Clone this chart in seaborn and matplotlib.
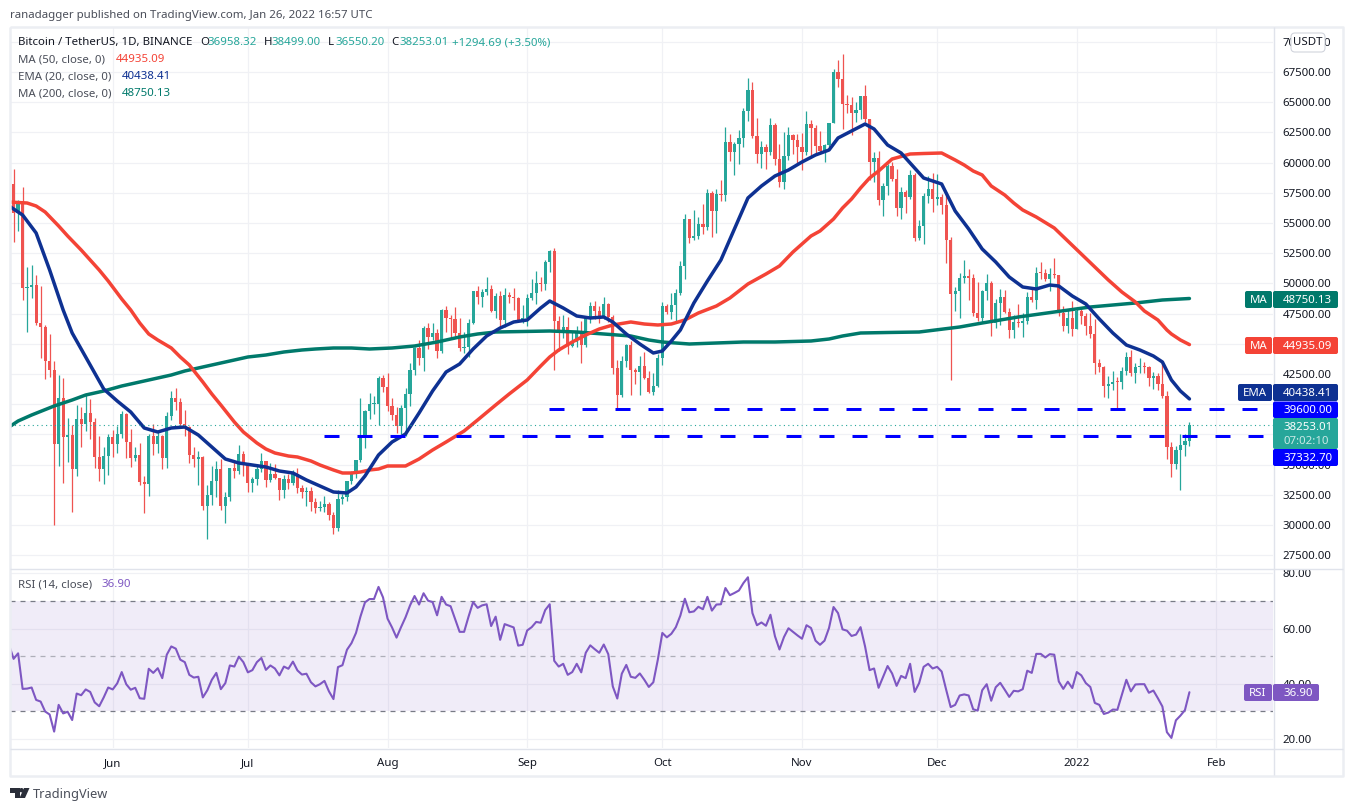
import numpy as np
import pandas as pd
import seaborn as sns
import matplotlib
matplotlib.use("Agg")
import matplotlib.pyplot as plt
from matplotlib.patches import FancyBboxPatch, Polygon, Circle
from matplotlib.lines import Line2D
from matplotlib.transforms import Affine2D

# ---------------- data ----------------
first_open = 58877
close_may = [58240,55848,56706,49631,49671,49841,46762,46431,43538,42849,36690,40526,37252,37449,34655,38796,38324,39241,38529,35663,34605,35678,37293]
high_may = [59300,59500,56900,58000,51367,51560,50700,49800,46545,45800,43546,42451,42200,38850,38270,39920,39791,40841,40411,38877,37338,36488,37499]
low_may = [56235,53400,54370,48600,46000,48800,46555,43825,42100,42250,30000,34850,33500,35200,31111,34031,36419,37800,37134,34684,33632,33379,34153]

close_jun = [36687,37555,39187,36856,35520,35796,33552,33380,37388,36675,37331,35546,39020,40516,40144,38349,38092,35820,35483,35600,31608,32509,33678,34663,31584,32283,34700,34494,35911,35045]
high_jun = [37894,38225,39476,39289,37925,36480,36800,34068,37534,38400,37700,37440,39380,41064,41330,40527,39559,38200,36457,36137,35750,33298,34881,35298,35500,32730,34749,35297,36600,36100]
low_jun = [35666,35920,37170,35555,34800,35259,33300,31000,32396,35800,35936,34635,34757,38730,39506,38116,37365,35129,34803,33336,31251,28805,31683,32286,31275,30151,31973,33862,34225,34017]

close_jul = [33504,33786,34669,35287,33690,34220,33863,32875,33815,33502,34259,33086,32729,32820,31880,31383,31520,31778,30839,29790,32144,32287,33634,34258,35381,37276,39473,40015,40016,42206,41461]
high_jul = [35057,33977,34945,35950,35284,35100,35059,33920,34100,34262,34592,34678,33340,33114,33185,32249,31950,32435,31899,31063,32858,32591,33650,34500,35398,40550,39542,40900,40640,42316,42448]
low_jul = [32711,32699,33316,34357,33125,33532,33770,32088,32261,33004,33331,32658,32202,31550,31133,31020,31164,31108,30407,29278,29482,31708,32000,33401,33851,35205,36383,38772,39200,38313,41000]

close_aug = [39845,39147,38207,39723,40862,42836,44614,43792,46285,45543,45881,44428,47833,47109,47014,45902,44686,44741,46763,49339,48905,49321,49546,47706,48960,46942,49058,48897,48767,46970,47100]
high_aug = [42599,40480,39780,39969,41350,43392,44700,45310,46454,46700,46743,46217,47886,48144,47372,48053,47160,45985,47033,49382,49757,49500,50500,49874,49240,49370,49632,49300,49658,48888,48246]
low_aug = [39422,38690,37642,37508,37332,39853,42446,43261,42779,44589,45341,43795,44218,45971,45500,45660,44376,44203,43927,46644,48270,48050,49029,47600,47136,46376,46371,48370,47762,46853,46700]

close_sep = [48810,49246,49999,49915,51756,52663,46863,46048,46395,44850,45173,46026,44940,47111,48121,47737,47299,48292,47242,43016,40734,43543,44865,42810,42670,43160,42147,41026,41522,43824]
high_sep = [49125,50392,51000,50558,51900,52781,52920,47340,47399,47250,45959,46460,46879,47250,48500,48557,48150,48843,48372,47347,43639,44000,45000,45200,42966,43950,44350,42787,42590,44141]
low_sep = [46513,48629,48316,49370,49450,50969,42843,44412,45513,44132,44769,44742,43370,44750,46700,47021,46699,47035,46829,42500,39600,40565,43069,40750,41646,40750,42098,40888,40753,41410]

close_oct = [48141,47634,48200,49224,51471,55315,53785,53951,54949,54659,57471,56005,57367,57347,61672,60875,61528,62036,64280,66001,62193,60688,61286,60852,63078,60328,58413,60575,62253,61859,61299]
high_oct = [48495,48336,49228,49500,51886,55750,55332,56100,55489,56561,57839,57680,57777,58532,62933,62378,61718,62675,64486,67000,66639,63732,61747,61500,63710,63293,61500,62499,62980,62359,62405]
low_oct = [43283,47430,47088,46891,49057,50382,53357,53617,53661,54080,54415,53879,54167,56818,56850,60150,58963,59844,61322,63481,62000,60000,59562,59510,60650,59817,58000,57820,60174,60673,59945]

close_nov = [60911,63219,62896,61395,60937,61470,63273,67525,66947,64882,64774,64122,64380,65519,63606,60058,60344,56891,58052,59707,58622,56247,57541,57138,58960,53727,54716,57274,57776,56950]
high_nov = [62437,64270,63500,63086,62600,61560,63286,67789,68524,69000,65600,65450,65000,65550,66401,63617,60840,60976,58320,59845,60029,59444,58009,57735,59420,59150,55280,57445,58865,59176]
low_nov = [59405,60624,60382,60677,60721,60050,61322,63273,66222,62822,64100,62278,63360,63576,63400,58574,58373,56474,55600,57353,58487,55610,55317,55837,57000,53500,53610,53256,56666,55875]

close_dec = [57184,56480,53601,49152,49396,50441,50588,50471,47545,47140,49389,50053,46702,48343,48864,47632,46131,46834,46681,46914,48889,48588,50838,50820,50400,50775,50701,47543,46464,47120,46216]
high_dec = [59053,57375,57600,53859,49699,50891,51936,51200,50797,50125,49485,50777,50189,48700,49500,49436,48004,47360,48300,47537,49328,49576,51375,51810,51156,51280,52088,50704,48139,47900,48548]
low_dec = [56458,55777,51680,42000,47727,47100,50039,48600,47320,46852,46751,48638,45672,46290,46547,47511,45456,45500,46406,45558,46630,48421,47920,50384,50171,49412,50449,47313,46096,45900,45678]

close_jan = [47722,47286,46446,45833,43431,43097,41546,41672,41864,41822,42729,43902,42560,43059,43084,43071,42201,42352,41660,40680,36445,35071,36244,36660,36958,38253]
high_jan = [47954,47990,47570,47557,47070,43748,43145,42300,42786,42248,43100,44322,44500,43448,43800,43475,43176,42691,42559,43505,41100,36835,36499,37550,37545,38499]
low_jan = [46208,46654,45696,45500,42500,42645,40610,40501,41200,39650,41268,42448,42311,41725,42562,42581,41540,41250,41138,40553,35440,34008,34601,32917,35701,36550]

closes = close_may + close_jun + close_jul + close_aug + close_sep + close_oct + close_nov + close_dec + close_jan
highs = high_may + high_jun + high_jul + high_aug + high_sep + high_oct + high_nov + high_dec + high_jan
lows = low_may + low_jun + low_jul + low_aug + low_sep + low_oct + low_nov + low_dec + low_jan
opens = [first_open] + closes[:-1]
days = np.arange(len(closes))

ema_days = [0,3,6,9,12,14,18,21,24,27,30,33,36,39,42,45,48,51,54,57,60,63,66,69,72,75,77,79,82,85,88,91,94,97,100,103,106,109,112,115,118,120,123,126,129,132,134,137,140,143,145,147,149,152,155,158,161,164,167,170,173,176,179,182,184,187,190,192,195,198,200,203,205,207,210,213,216,219,222,225,228,231,233,236,239,242,245,248,251,254,256,258,260,262]
ema_vals = [56407,55662,54172,51110,47798,45894,43245,41259,40265,39355,38030,37699,38030,38113,37451,36457,35464,35133,34967,34802,34471,34305,33726,33229,32732,32650,33146,34057,35795,36871,37534,39272,41093,42666,43328,44570,45646,46308,46805,46971,47964,48543,47964,47302,47136,47219,46805,45812,44984,44239,44404,45232,46143,48378,50199,51937,54504,57070,58063,58891,59388,60050,60629,61043,62037,62616,63195,62782,61457,60795,59967,58725,58477,58229,55994,54504,52848,51772,50530,49702,49537,49868,49785,48957,48295,47053,45894,44901,44487,43990,43494,42004,41093,40438]

ma50_days = [0,4,6,8,11,13,16,18,20,22,25,27,29,31,33,36,38,40,43,45,47,50,52,55,57,59,62,64,67,69,72,74,76,78,80,82,84,88,91,94,97,101,104,108,111,115,118,120,122,125,128,131,134,138,141,144,147,150,153,157,160,162,164,166,168,171,174,178,180,183,185,187,189,191,193,196,198,200,203,207,210,212,214,216,218,221,223,225,228,232,235,238,241,244,247,250,252,255,257,258,260,262]
ma50_vals = [56739,56656,56407,55911,54752,53924,52765,51937,51110,50199,48709,47798,46722,45812,45315,44653,43908,43245,41838,40845,39934,38527,37699,36789,36292,35961,35712,35630,35299,34967,34554,34305,34305,34388,34554,34636,34885,34885,35464,36209,36871,37782,38693,39934,40845,42004,43163,43908,44487,45149,45729,46226,46557,46805,46639,46557,46639,46971,47550,48130,48792,49371,49951,50365,50778,51441,52600,53924,54338,55331,56242,56987,57898,58725,59305,60298,60505,60712,60753,60795,60215,59801,59305,58974,58063,57318,56656,56076,55497,54586,53510,52434,51358,50282,49288,48461,47716,46971,46143,45812,45315,44935]

ma200_days = [0,2,5,10,14,17,21,25,29,33,36,39,43,46,50,53,57,61,65,68,72,76,80,85,90,95,100,104,108,114,120,126,132,138,142,145,151,157,163,170,178,182,185,189,195,202,211,216,224,232,240,245,250,256,262]
ma200_vals = [38113,38610,39106,39851,40348,40762,41093,41507,41838,42169,42418,42749,43080,43328,43659,43908,44073,44322,44487,44570,44653,44653,44570,44653,44818,45149,45563,45812,45977,46018,46060,45977,45812,45646,45315,45149,44984,45067,45149,45149,45232,45397,45646,45894,45936,45977,46391,46722,47219,47633,48047,48212,48378,48626,48750]

rsi_may = [54,49,51,38.1,38.2,38.6,34.1,33.5,29.9,28.8,22.6,32.3,29.2,29.8,26.8,36.4,35.8,37.9,37.0,33.2,31.8,35,38.6]
rsi_jun = [37.9,40.1,44.2,39.8,37.8,38.5,34.7,34.5,45.4,43.9,45.6,42,50.5,53.5,52.7,48.7,47.8,43.2,42.2,42.5,35,37.6,41.4,43.9,38,40.2,46.6,46.2,49.8,47.8]
rsi_jul = [44.1,44.9,47.8,49.3,45,46.6,45.5,43,46.2,45.4,48,44.8,43.3,43.6,40.5,39,39.8,41,37.2,34.4,46,46.7,52.3,54.7,58.4,64.4,69.5,70.7,70.7,75.1,71.3]
rsi_aug = [63.6,60.4,56.7,60.5,64.1,68.4,71.8,68.7,72.8,70.1,69.6,64.8,71.5,68.7,68.1,63.5,58.8,58.8,64.4,69.6,67.5,68.4,68.8,60.9,64.3,55.9,61.6,61,60.4,53.8,54.1]
rsi_sep = [59.3,60.5,62.4,62.1,66.7,68.8,48.3,46.2,47.2,43.2,44.2,47.2,44.1,51.2,53.9,52.5,51.2,54.2,50.7,39,34.6,43.6,46.8,42.5,42.1,43.7,41.4,38.8,40.5,48.7]
rsi_oct = [58.4,56.8,58.1,60.5,64.7,70.8,65.9,66.2,67.9,67,71.5,66.5,68.7,68.8,74.7,72.1,72.9,73.8,76.5,78.6,65.6,61.2,62.2,61,65,57.2,52.4,56.9,60.1,58.8,57.5]
rsi_nov = [56.3,61.2,60.2,55.6,54.1,55.6,60.2,67.8,65.6,59.7,59.2,57.3,57.8,60.5,53.5,44.9,45.5,38.5,42.4,46.4,43.7,39.2,42.8,42,47.2,37,40.2,46.1,47.2,45.5]
rsi_dec = [46.1,44.4,37.8,31.5,32.3,35.7,36.1,35.7,30.7,30.2,37.6,39.8,33.8,38.7,40.3,37.8,35.2,37.4,37.2,38,44.7,43.9,50.8,50.8,49.5,50.7,50.5,40.8,38.1,40.7,38.4]
rsi_jan = [44.2,43,40.2,38.8,33,32.3,29,29.5,30.6,30.5,35.9,41.4,37.2,39.7,39.8,39.8,36.7,37.5,34.7,31.7,22.4,20.3,26.7,28.4,30.4,36.9]
rsi = rsi_may + rsi_jun + rsi_jul + rsi_aug + rsi_sep + rsi_oct + rsi_nov + rsi_dec + rsi_jan

month_days = [23,53,84,115,145,176,206,237,268]
month_labels = ["Jun","Jul","Aug","Sep","Oct","Nov","Dec","2022","Feb"]
price_ticks = list(range(27500, 70001, 2500))
hidden_price_labels = [37500, 40000]
rsi_ticks = [20,40,60,80]
level_upper = 39600.00
level_lower = 37332.70
last_close = 38253.01

# ---------------- style ----------------
W, H = 1353, 811
FONT = ["Noto Sans", "DejaVu Sans"]
sns.set_theme(style="white")
plt.rcParams["font.family"] = FONT
GRID = "#f0f1f5"
FRAME = "#e0e3eb"
TXT = "#131722"
UP, DOWN = "#26a69a", "#ef5350"
C_EMA, C_50, C_200, C_RSI = "#0e3192", "#f44336", "#00796b", "#7e57c2"
LEVEL = "#0000ff"
FS = 8.25

fig = plt.figure(figsize=(W/100, H/100), dpi=100, facecolor="white")
PX = Affine2D().scale(1, -1).translate(0, H)

def add_axes(x0, y0, x1, y1):
    return fig.add_axes([x0/W, 1-y1/H, (x1-x0)/W, (y1-y0)/H])

ax = add_axes(10, 27, 1273, 568)
ar = add_axes(10, 569, 1273, 748)

XLIM = (0.2, 280.55)
for a in (ax, ar):
    a.set_xlim(*XLIM)
    a.set_xticks(month_days)
    a.grid(True, color=GRID, lw=0.9)
    a.set_axisbelow(True)
    a.yaxis.tick_right()
    a.tick_params(axis="y", length=0, pad=7, labelsize=FS, labelcolor=TXT)
    a.tick_params(axis="x", length=0)
    for s in a.spines.values():
        s.set_visible(False)

# ---------------- main pane ----------------
ax.set_ylim(26441, 71225)
ax.set_yticks(price_ticks)
ax.set_yticklabels(["" if v in hidden_price_labels else f"{v:.2f}" for v in price_ticks])
ax.set_xticklabels([])

o, h, l, c = map(np.asarray, (opens, highs, lows, closes))
cols = np.where(c >= o, UP, DOWN)
ax.vlines(days, l, h, colors=cols, lw=0.9, zorder=2)
ax.bar(days, np.maximum(np.abs(c-o), 90), bottom=np.minimum(o, c), width=0.72, color=cols, lw=0, zorder=2.1)

for d, v, col in ((ma200_days, ma200_vals, C_200), (ma50_days, ma50_vals, C_50), (ema_days, ema_vals, C_EMA)):
    sns.lineplot(x=d, y=v, ax=ax, color=col, lw=2.5, errorbar=None, legend=False, zorder=3, solid_capstyle="round", sort=False)
ax.set_xlabel(""); ax.set_ylabel("")

ax.axhline(last_close, color=UP, lw=0.8, ls=(0, (1, 3)), zorder=3.5)
ax.plot([119.8, 277.0], [level_upper]*2, color=LEVEL, lw=2.16, ls=(0, (5, 6)), dash_capstyle="butt", zorder=4)
ax.plot([70.0, 278.3], [level_lower]*2, color=LEVEL, lw=2.16, ls=(0, (5, 6)), dash_capstyle="butt", zorder=4)

# ---------------- RSI pane ----------------
ar.set_ylim(16.65, 81.6)
ar.set_yticks(rsi_ticks)
ar.set_yticklabels([f"{v:.2f}" for v in rsi_ticks])
ar.set_xticklabels(month_labels, fontsize=FS, color=TXT)
ar.tick_params(axis="x", pad=7)
for t in ar.get_xticklabels():
    if t.get_text() == "2022":
        t.set_fontweight("bold")
ar.axhspan(30, 70, color=C_RSI, alpha=0.11, lw=0, zorder=1)
ar.axhline(70, color="#787b86", lw=0.9, ls=(0, (4, 4)), zorder=2)
ar.axhline(30, color="#787b86", lw=0.9, ls=(0, (4, 4)), zorder=2)
ar.axhline(50, color="#787b86", lw=0.9, ls=(0, (4, 4)), alpha=0.55, zorder=2)
sns.lineplot(x=days, y=rsi, ax=ar, color=C_RSI, lw=1.5, errorbar=None, legend=False, zorder=3)
ar.set_xlabel(""); ar.set_ylabel("")

# ---------------- frame ----------------
def fline(xs, ys, color=FRAME, lw=1.0):
    fig.add_artist(Line2D(xs, ys, transform=PX, color=color, lw=lw, zorder=5, solid_capstyle="butt"))

fline([10, 1343, 1343, 10, 10], [26.5, 26.5, 775.5, 775.5, 26.5], color="#eceef3", lw=1.8)
fline([10, 1343], [568.5, 568.5])
fline([10, 1343], [748.5, 748.5])
fline([1273.5, 1273.5], [27, 775])

def box(x0, y0, x1, y1, fc, ec="none", r=2):
    fig.add_artist(FancyBboxPatch((x0, y0), x1-x0, y1-y0, boxstyle=f"round,pad=0,rounding_size={r}",
                                  transform=PX, fc=fc, ec=ec, lw=0.8, zorder=6))

def txt(x, y, s, color=TXT, ha="left", size=FS, weight="normal", alpha=1.0):
    fig.text(x, y + 0.6, s, transform=PX, color=color, ha=ha, va="center", fontsize=size, fontweight=weight, alpha=alpha, zorder=7)

# price tags
box(1291, 33, 1325, 52, "white", ec="#d1d4dc", r=4)
txt(1308, 42.3, "USDT", ha="center")
for x0, x1, yc, col, lab, val in ((1245, 1272, 299.5, C_200, "MA", "48750.13"),
                                  (1245, 1272, 345.5, C_50, "MA", "44935.09"),
                                  (1238, 1272, 392.5, C_EMA, "EMA", "40438.41")):
    box(x0, yc-8.5, x1, yc+8.5, col)
    txt((x0+x1)/2, yc, lab, color="white", ha="center")
    box(1273, yc-8.5, 1338, yc+8.5, col)
    txt(1283, yc, val, color="white")
box(1273, 401.5, 1338, 418, LEVEL)
txt(1283, 409.5, "39600.00", color="white")
box(1273, 418, 1338, 449, UP)
txt(1283, 426.5, "38253.01", color="white")
txt(1283, 441, "07:02:10", color="white", alpha=0.75)
box(1273, 449, 1338, 466, LEVEL)
txt(1283, 457.5, "37332.70", color="white")
box(1244, 684, 1272, 701, C_RSI)
txt(1258, 692.5, "RSI", color="white", ha="center")
box(1273, 684, 1319, 701, C_RSI)
txt(1283, 692.5, "36.90", color="white")

# header texts
txt(10, 15, "ranadagger published on TradingView.com, Jan 26, 2022 16:57 UTC", color="#4a4e59")
txt(18, 42, "Bitcoin / TetherUS, 1D, BINANCE")
for x, k, v in ((200, "O", "36958.32"), (264, "H", "38499.00"), (328, "L", "36550.20"), (391, "C", "38253.01")):
    txt(x, 42, k)
    txt(x+8, 42, v, color=UP)
txt(452, 42, "+1294.69 (+3.50%)", color=UP)
txt(18, 59, "MA (50, close, 0)", color="#4a4e59")
txt(116, 59, "44935.09", color=C_50)
txt(18, 76, "EMA (20, close, 0)", color="#4a4e59")
txt(122, 76, "40438.41", color=C_EMA)
txt(18, 93, "MA (200, close, 0)", color="#4a4e59")
txt(122, 93, "48750.13", color=C_200)
txt(18, 584, "RSI (14, close)", color="#4a4e59")
txt(102, 584, "36.90", color=C_RSI)

# TradingView logo
LOGO = "#2a2e39"
fig.add_artist(Polygon([(10, 788), (19.5, 788), (19.5, 798), (15, 798), (15, 792.5), (10, 792.5)], transform=PX, fc=LOGO, ec="none", zorder=6))
fig.add_artist(Circle((21.5, 790.2), 2.2, transform=PX, fc=LOGO, ec="none", zorder=6))
fig.add_artist(Polygon([(24, 788), (29.5, 788), (25, 798), (19.5, 798)], transform=PX, fc=LOGO, ec="none", zorder=6))
txt(33, 793.5, "TradingView", color="#4a4e59", size=9.2)

fig.savefig("out.png", dpi=100, facecolor="white")
